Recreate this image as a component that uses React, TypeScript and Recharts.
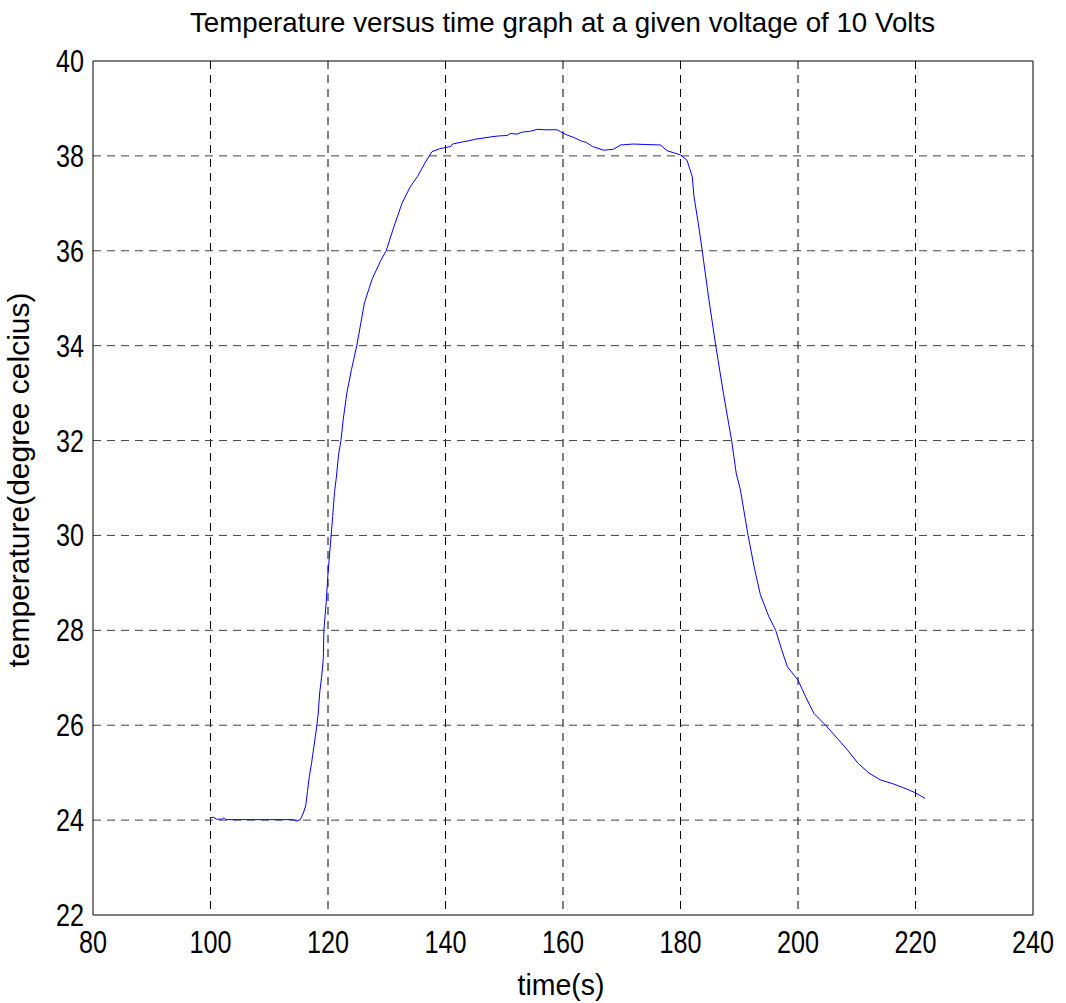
import React from 'react';
import { LineChart, Line, XAxis, YAxis, CartesianGrid, ReferenceLine } from 'recharts';

const times = [
    100, 100.5, 101, 102, 102.3, 102.6, 105, 110, 114, 114.7, 115.3, 115.8,
    116.2, 116.5, 116.8, 117.2, 117.6, 118.0, 118.3, 118.6, 118.9, 119.2, 119.3,
    119.7, 120.0, 120.4, 120.8, 121.1, 121.4, 121.8, 122.2, 122.6, 123.2, 124.0,
    124.9, 126.2, 127.5, 129.0, 129.9, 131.2, 132.6, 134.0, 135.2, 136.5, 137.7,
    139, 140.9, 141.2, 143.1, 144, 145, 147.7, 149, 150.5, 151, 152.2, 153,
    154.5, 155.6, 157, 159.0, 159.7, 160.7, 162, 163, 164, 165, 166.9, 168.6,
    169.8, 172, 174, 176.6, 177.7, 179, 180, 181.1, 182.0, 182.3, 183.0, 183.7,
    184.8, 186.0, 187.3, 188.7, 189.5, 190.2, 191.5, 192.6, 193.6, 195, 196.2,
    197.2, 198.2, 200, 201.3, 202.7, 204.7, 206.5, 208.4, 210.2, 212.1, 214,
    216.3, 218, 219.9, 221.6
];

const temps = [
    24.05, 24.06, 24.02, 24.02, 24.05, 24.01, 24.01, 24.01, 24.01, 23.98, 24.01, 24.15,
    24.3, 24.6, 24.9, 25.2, 25.55, 25.9, 26.2, 26.7, 27.0, 27.4, 28.0,
    28.6, 29.2, 29.8, 30.4, 30.9, 31.2, 31.7, 32.0, 32.45, 33.0, 33.5,
    34.0, 34.9, 35.4, 35.8, 36.0, 36.5, 37.0, 37.35, 37.56, 37.85, 38.09,
    38.15, 38.2, 38.25, 38.3, 38.32, 38.35, 38.4, 38.42, 38.43, 38.47, 38.46, 38.5,
    38.52, 38.56, 38.55, 38.55, 38.5, 38.44, 38.38, 38.32, 38.28, 38.2, 38.12, 38.14,
    38.23, 38.25, 38.24, 38.23, 38.11, 38.06, 38.02, 37.91, 37.56, 37.14, 36.6, 36.0,
    35.0, 34.0, 33.0, 32.0, 31.3, 30.96, 30.0, 29.3, 28.75, 28.3, 28.0,
    27.6, 27.23, 26.95, 26.6, 26.25, 26.0, 25.75, 25.48, 25.2, 24.99, 24.85,
    24.76, 24.68, 24.58, 24.46
];

const xTicks = [80, 100, 120, 140, 160, 180, 200, 220, 240];
const yTicks = [22, 24, 26, 28, 30, 32, 34, 36, 38, 40];

const data = times.map((t, i) => ({ t, v: temps[i] }));

// grid only on the inner ticks, the box edges are drawn solid
const xGrid = xTicks.slice(1, -1);
const yGrid = yTicks.slice(1, -1);

const FONT = '"Liberation Sans", Arial, sans-serif';

const XTick = (props: any) => {
    const s = String(props.payload.value);
    return (
        <text
            x={props.x}
            y={props.y + 38}
            textAnchor="middle"
            fontFamily={FONT}
            fontSize={32}
            fill="#000"
            textLength={14 * s.length}
            lengthAdjust="spacingAndGlyphs"
        >
            {s}
        </text>
    );
};

const YTick = (props: any) => {
    const s = String(props.payload.value);
    return (
        <text
            x={props.x - 9}
            y={props.y + 11}
            textAnchor="end"
            fontFamily={FONT}
            fontSize={32}
            fill="#000"
            textLength={14 * s.length}
            lengthAdjust="spacingAndGlyphs"
        >
            {s}
        </text>
    );
};

const App = () => {
    return (
        <div style={{ position: 'absolute', left: 0, top: 0, width: 1066, height: 1003, background: '#fff' }}>
            <LineChart
                width={1066}
                height={1003}
                data={data}
                margin={{ top: 61, right: 33, left: 33, bottom: 28 }}
            >
                <CartesianGrid horizontal={false} stroke="#000" strokeDasharray="8 6" verticalValues={xGrid} />
                <CartesianGrid vertical={false} stroke="#444" strokeDasharray="8 6" horizontalValues={yGrid} />
                <XAxis
                    dataKey="t"
                    type="number"
                    domain={[80, 240]}
                    ticks={xTicks}
                    height={60}
                    tickSize={0}
                    tickMargin={0}
                    axisLine={{ stroke: '#000' }}
                    tickLine={false}
                    tick={<XTick />}
                    interval={0}
                />
                <YAxis
                    type="number"
                    domain={[22, 40]}
                    ticks={yTicks}
                    width={60}
                    tickSize={0}
                    tickMargin={0}
                    axisLine={{ stroke: '#000' }}
                    tickLine={false}
                    tick={<YTick />}
                    interval={0}
                />
                <ReferenceLine y={40} stroke="#000" strokeWidth={1} />
                <ReferenceLine x={240} stroke="#000" strokeWidth={1} />
                <Line
                    type="linear"
                    dataKey="v"
                    stroke="#0000ff"
                    strokeWidth={1}
                    dot={false}
                    isAnimationActive={false}
                />
            </LineChart>
            <svg
                width={1066}
                height={1003}
                style={{ position: 'absolute', left: 0, top: 0, pointerEvents: 'none' }}
            >
                <text
                    x={190}
                    y={32}
                    fontFamily={FONT}
                    fontSize={28}
                    fill="#000"
                    textLength={745}
                    lengthAdjust="spacingAndGlyphs"
                >
                    Temperature versus time graph at a given voltage of 10 Volts
                </text>
                <text
                    x={561}
                    y={995}
                    textAnchor="middle"
                    fontFamily={FONT}
                    fontSize={30}
                    fill="#000"
                    textLength={87}
                    lengthAdjust="spacingAndGlyphs"
                >
                    time(s)
                </text>
                <text
                    x={29}
                    y={480}
                    transform="rotate(-90 29 480)"
                    textAnchor="middle"
                    fontFamily={FONT}
                    fontSize={30}
                    fill="#000"
                    textLength={375}
                    lengthAdjust="spacingAndGlyphs"
                >
                    temperature(degree celcius)
                </text>
            </svg>
        </div>
    );
};

export default App;
